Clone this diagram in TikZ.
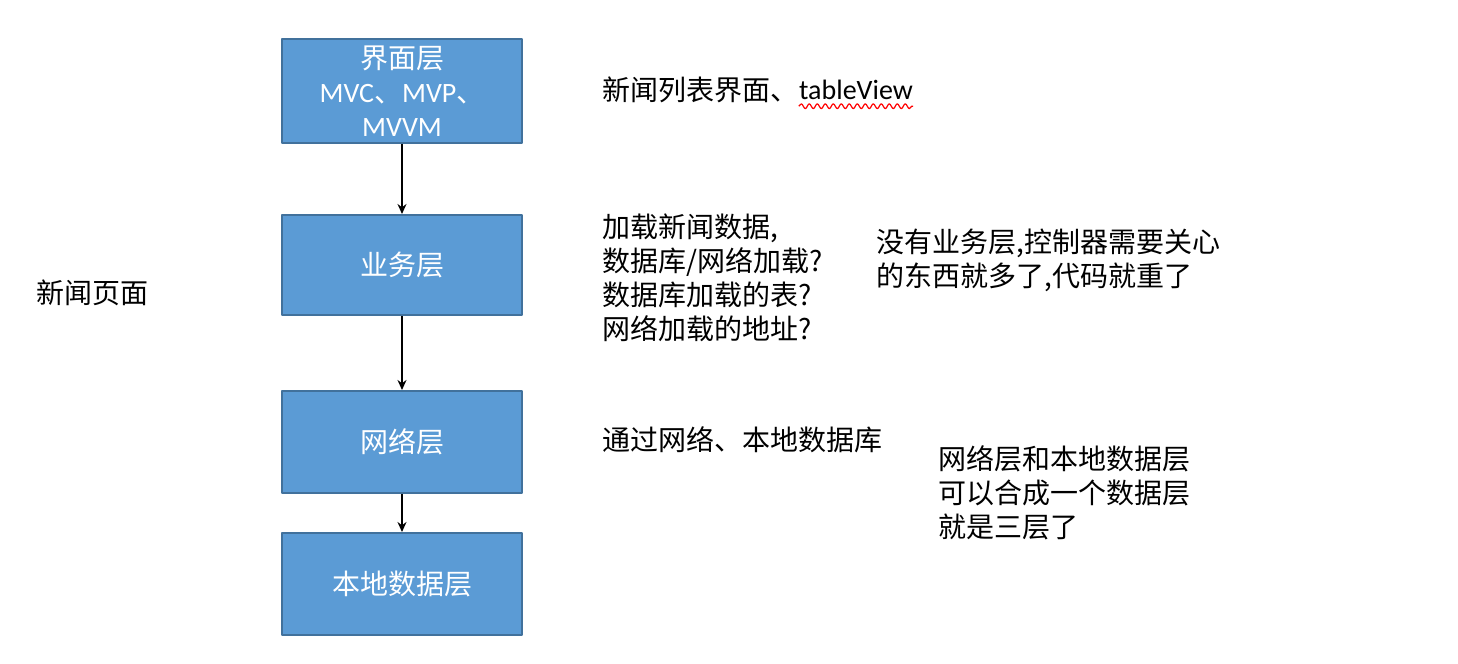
\documentclass[tikz,border=0pt]{standalone}
\usepackage{fontspec}
\setmainfont{Carlito}
\newfontfamily\cjk{Noto Sans CJK SC}
\usetikzlibrary{arrows.meta,positioning,decorations.pathmorphing}
\definecolor{boxfill}{HTML}{5B9BD5}
\definecolor{boxline}{HTML}{41719C}
\tikzset{
  every picture/.style={line join=round, >=Stealth},
  layer/.style={draw=boxline, fill=boxfill, line width=1pt, text=white, minimum width=120pt, minimum height=50pt, align=center, font=\cjk\fontsize{14}{17}\selectfont},
  note/.style={anchor=west, align=left, inner sep=0pt, font=\cjk\fontsize{14}{17}\selectfont},
  flow/.style={->, line width=0.75pt, >={Stealth[length=5pt,width=4.5pt]}},
}
\begin{document}
\begin{tikzpicture}[x=0.5pt,y=-0.5pt]
\useasboundingbox (0,0) rectangle (1458,664);
\node[layer] (ui) at (402,91) {界面层\\{\rmfamily MVC}、{\rmfamily MVP}、\\{\rmfamily MVVM}};
\node[layer] (biz) at (402,265) {业务层};
\node[layer,minimum height=51pt] (net) at (402,442) {网络层};
\node[layer,minimum height=51pt] (db) at (402,584) {本地数据层};
\draw[flow] (ui) -- (biz);
\draw[flow] (biz) -- (net);
\draw[flow] (net) -- (db);
\node[note] (page) at (36,293) {新闻页面};
\node[note] (list) at (602,90) {新闻列表界面、};
\node[note,right=0pt of list,font=\fontsize{14}{17}\selectfont] (tv) {tableView};
\draw[red,line width=0.6pt,decorate,decoration={snake,amplitude=1.2pt,segment length=4pt}] ([yshift=-3pt]tv.south west) -- ([yshift=-3pt]tv.south east);
\node[note] (load) at (602,278) {加载新闻数据,\\数据库/网络加载?\\数据库加载的表?\\网络加载的地址?};
\node[note] (nobiz) at (876,260) {没有业务层,控制器需要关心\\的东西就多了,代码就重了};
\node[note] (via) at (602,440) {通过网络、本地数据库};
\node[note] (merge) at (938,493) {网络层和本地数据层\\可以合成一个数据层\\就是三层了};
\end{tikzpicture}
\end{document}
